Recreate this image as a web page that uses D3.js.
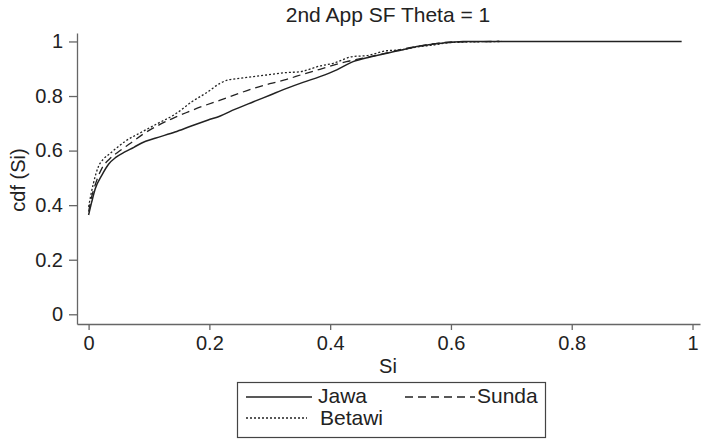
<!DOCTYPE html>
<html>
<head>
<meta charset="utf-8">
<script src="https://cdn.jsdelivr.net/npm/d3@7"></script>
<style>
body{margin:0;background:#fff;}
svg{font-family:'Liberation Sans', Arial, sans-serif;display:block;}
</style>
</head>
<body>
<svg id="cdf_region"></svg>
<script>
const chart_title = '2nd App SF Theta = 1';
const x_label = 'Si';
const y_label = 'cdf (Si)';
const x_ticks = [0, 0.2, 0.4, 0.6, 0.8, 1];
const y_ticks = [0, 0.2, 0.4, 0.6, 0.8, 1];

const jawa_x = [0, 0.005, 0.011, 0.022, 0.033, 0.045, 0.06, 0.075, 0.088, 0.11, 0.143, 0.17, 0.198, 0.218, 0.242, 0.273, 0.3, 0.328, 0.355, 0.383, 0.411, 0.438, 0.466, 0.494, 0.52, 0.549, 0.575, 0.6, 0.62, 0.982];
const jawa_y = [0.364, 0.41, 0.46, 0.51, 0.55, 0.575, 0.595, 0.612, 0.628, 0.645, 0.668, 0.69, 0.712, 0.727, 0.751, 0.779, 0.803, 0.828, 0.85, 0.871, 0.896, 0.926, 0.943, 0.957, 0.97, 0.983, 0.992, 0.997, 1.0, 1.0];

const sunda_x = [0, 0.005, 0.011, 0.022, 0.035, 0.049, 0.07, 0.09, 0.115, 0.143, 0.165, 0.187, 0.218, 0.242, 0.273, 0.3, 0.328, 0.355, 0.383, 0.427, 0.45, 0.494, 0.52, 0.549, 0.58, 0.6, 0.68];
const sunda_y = [0.376, 0.43, 0.475, 0.535, 0.57, 0.595, 0.628, 0.66, 0.692, 0.722, 0.742, 0.761, 0.785, 0.804, 0.828, 0.845, 0.861, 0.88, 0.898, 0.926, 0.937, 0.958, 0.972, 0.984, 0.994, 0.998, 1.0];

const betawi_x = [0, 0.004, 0.008, 0.016, 0.025, 0.033, 0.045, 0.06, 0.088, 0.115, 0.143, 0.171, 0.198, 0.218, 0.231, 0.24, 0.273, 0.295, 0.328, 0.35, 0.383, 0.405, 0.438, 0.46, 0.494, 0.516, 0.545, 0.571, 0.6, 0.684];
const betawi_y = [0.394, 0.44, 0.48, 0.54, 0.57, 0.585, 0.607, 0.633, 0.668, 0.70, 0.733, 0.779, 0.816, 0.847, 0.859, 0.862, 0.871, 0.877, 0.886, 0.889, 0.91, 0.92, 0.945, 0.948, 0.966, 0.969, 0.98, 0.987, 0.996, 1.0];

const series_names = ['Jawa', 'Sunda', 'Betawi'];

class CdfChart{
    constructor(config, series){
        this.config = {
            parent: config.parent || '#cdf_region',
            width: config.width || 701,
            height: config.height || 440,
            margin: config.margin || {top:33, right:1, bottom:116, left:77}
        };
        this.series = series;
        this.init();
    }

    init(){
        const m = this.config.margin;
        this.svg = d3.select(this.config.parent)
            .attr('width', this.config.width)
            .attr('height', this.config.height);

        this.inner_width = this.config.width - m.left - m.right;
        this.inner_height = this.config.height - m.top - m.bottom;

        this.chart = this.svg.append('g')
            .attr('transform', `translate(${m.left}, ${m.top})`);

        // axes run a little past 0 and 1 like the original
        this.xscale = d3.scaleLinear()
            .domain([-0.0192, 1.0124])
            .range([0, this.inner_width]);

        this.yscale = d3.scaleLinear()
            .domain([-0.0356, 1.031])
            .range([this.inner_height, 0]);

        this.xaxis = d3.axisBottom(this.xscale)
            .tickValues(x_ticks).tickFormat(d3.format('')).tickSize(6).tickSizeOuter(0).tickPadding(6);
        this.yaxis = d3.axisLeft(this.yscale)
            .tickValues(y_ticks).tickFormat(d3.format('')).tickSize(8).tickSizeOuter(0).tickPadding(6);

        this.xaxis_group = this.chart.append('g')
            .attr('transform', `translate(0, ${this.inner_height})`);
        this.yaxis_group = this.chart.append('g');

        this.render();
    }

    render(){
        const axis_style = g => {
            g.selectAll('path, line').attr('stroke', '#666').attr('stroke-width', 1.3);
            g.selectAll('text').attr('font-size', 20).attr('fill', '#222')
                .attr('font-family', "'Liberation Sans', Arial, sans-serif");
        };
        this.xaxis_group.call(this.xaxis).call(axis_style);
        this.yaxis_group.call(this.yaxis).call(axis_style);

        const line = d3.line()
            .x(d => this.xscale(d[0]))
            .y(d => this.yscale(d[1]))
            .curve(d3.curveMonotoneX);

        this.chart.selectAll('.cdf')
            .data(this.series)
            .join('path')
            .attr('class', 'cdf')
            .attr('fill', 'none')
            .attr('stroke', '#222')
            .attr('stroke-width', d => d.width)
            .attr('stroke-dasharray', d => d.dash)
            .attr('d', d => line(d3.zip(d.x, d.y)));

        this.svg.append('text')
            .attr('x', 388).attr('y', 22)
            .attr('text-anchor', 'middle')
            .attr('font-size', 21)
            .attr('fill', '#222')
            .text(chart_title);

        this.svg.append('text')
            .attr('x', 388).attr('y', 373)
            .attr('text-anchor', 'middle')
            .attr('font-size', 20)
            .attr('fill', '#222')
            .text(x_label);

        this.svg.append('text')
            .attr('text-anchor', 'middle')
            .attr('transform', `translate(25, 180) rotate(-90)`)
            .attr('font-size', 20)
            .attr('fill', '#222')
            .text(y_label);

        // legend
        const legend = this.svg.append('g');
        legend.append('rect')
            .attr('x', 237.5).attr('y', 382.5)
            .attr('width', 308).attr('height', 55)
            .attr('fill', 'none')
            .attr('stroke', '#444')
            .attr('stroke-width', 1.2);

        const spots = [
            {x1: 246, x2: 312, y: 397, tx: 318, ty: 403},
            {x1: 405, x2: 475, y: 397, tx: 477, ty: 403},
            {x1: 246, x2: 307, y: 418, tx: 320, ty: 425}
        ];
        this.series.forEach((s, i) => {
            const p = spots[i];
            legend.append('line')
                .attr('x1', p.x1).attr('x2', p.x2)
                .attr('y1', p.y).attr('y2', p.y)
                .attr('stroke', '#222')
                .attr('stroke-width', s.width)
                .attr('stroke-dasharray', s.dash);
            legend.append('text')
                .attr('x', p.tx).attr('y', p.ty)
                .attr('font-size', 21)
                .attr('fill', '#222')
                .text(s.name);
        });
    }
}

const series = [
    {name: series_names[0], x: jawa_x, y: jawa_y, dash: null, width: 1.5},
    {name: series_names[1], x: sunda_x, y: sunda_y, dash: '8,5', width: 1.3},
    {name: series_names[2], x: betawi_x, y: betawi_y, dash: '2,2', width: 1.3}
];

new CdfChart({parent: '#cdf_region'}, series);
</script>
</body>
</html>
